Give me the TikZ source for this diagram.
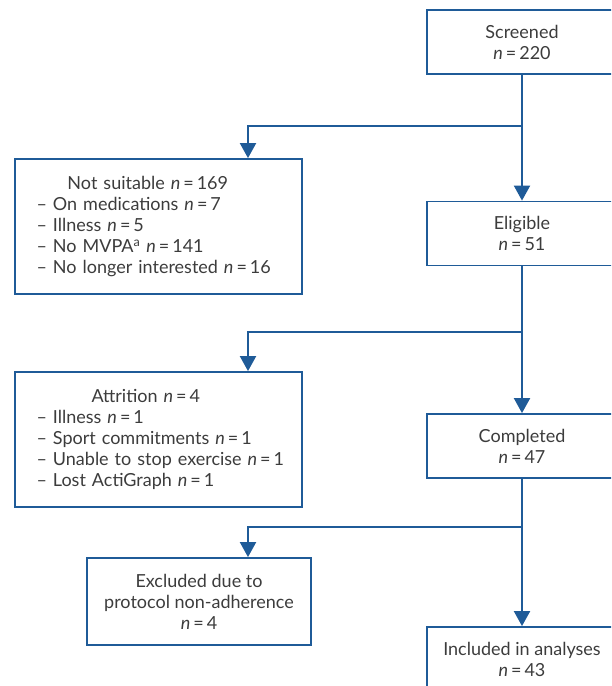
\documentclass[tikz,border=0pt]{standalone}
\usepackage{fontspec}
\setmainfont{Lato}
\usepackage{xcolor}
\usetikzlibrary{arrows.meta}
\definecolor{flowblue}{HTML}{1F5B98}
\definecolor{textgray}{HTML}{3C3C3C}
\newcommand{\nis}[1]{\textit{n}\,=\,#1}
\tikzset{
    every node/.style={font=\fontsize{18}{21}\selectfont, text=textgray},
    box/.style={draw=flowblue, line width=1.8pt, rectangle, align=center},
    stagebox/.style={box, minimum width=190pt, minimum height=64pt},
    listbox/.style={box, align=left, text width=244pt, inner xsep=21.5pt, minimum height=135pt},
    flow/.style={draw=flowblue, line width=2pt, -{Triangle[length=15pt,width=16pt]}}
}

\begin{document}
\begin{tikzpicture}[x=1pt, y=-1pt]
            \useasboundingbox (0,0) rectangle (611,686);
            \clip (0,0) rectangle (611,686);

            \node[stagebox] (screened) at (522,42) {Screened\\\nis{220}};
            \node[stagebox] (eligible) at (522,233.5) {Eligible\\\nis{51}};
            \node[stagebox] (completed) at (522,446) {Completed\\\nis{47}};
            \node[stagebox] (included) at (522,659) {Included in analyses\\\nis{43}};

            \node[listbox] (notsuitable) at (158.5,226.5) {\hspace*{31pt}Not suitable \nis{169}\\
                -- On medications \nis{7}\\
                -- Illness \nis{5}\\
                -- No MVPA\textsuperscript{a} \nis{141}\\
                -- No longer interested \nis{16}};
            \node[listbox] (attrition) at (158.5,439.5) {\hspace*{55pt}Attrition \nis{4}\\
                -- Illness \nis{1}\\
                -- Sport commitments \nis{1}\\
                \mbox{-- Unable to stop exercise \nis{1}}\\
                -- Lost ActiGraph \nis{1}};
            \node[box, minimum width=224pt, minimum height=87pt] (excluded) at (199,601.5) {Excluded due to\\protocol non-adherence\\\nis{4}};

            \coordinate (split1) at (522,126);
            \coordinate (split2) at (522,332);
            \coordinate (split3) at (522,527);

            \draw[flow] (screened) -- (eligible);
            \draw[flow] (eligible) -- (completed);
            \draw[flow] (completed) -- (included);
            \draw[flow] (split1) -| ([xshift=89.5pt]notsuitable.north);
            \draw[flow] (split2) -| ([xshift=89.5pt]attrition.north);
            \draw[flow] (split3) -| ([xshift=49pt]excluded.north);
        \end{tikzpicture}
\end{document}
